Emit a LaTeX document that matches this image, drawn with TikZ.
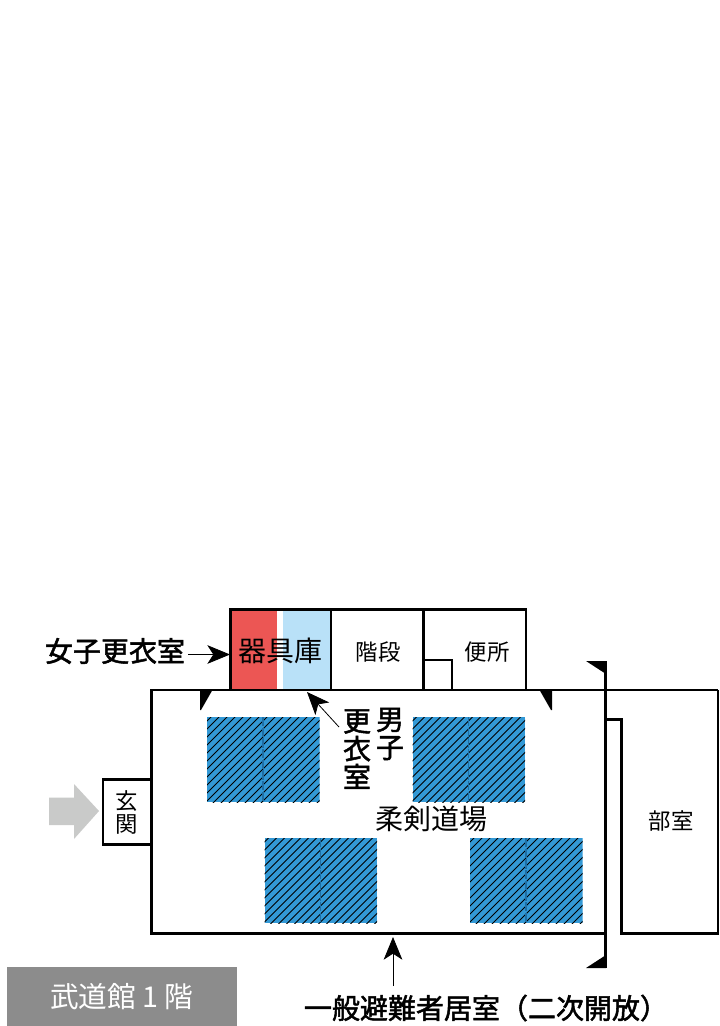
\documentclass[tikz,border=0pt]{standalone}
\usepackage{fontspec}
\setmainfont{Noto Sans CJK JP}
\newfontfamily\calloutfont[FakeBold=1.8]{Noto Sans CJK JP}
\usetikzlibrary{arrows.meta,calc}
\newcommand{\fsz}[1]{\fontsize{#1}{#1}\selectfont}
\definecolor{matblue}{HTML}{3399D6}
\definecolor{matline}{HTML}{1F6FA5}
\definecolor{roomred}{HTML}{EC5654}
\definecolor{roomblue}{HTML}{B9E1F8}
\definecolor{arrowgray}{HTML}{C9CAC9}
\definecolor{labelgray}{HTML}{8C8C8C}
\tikzset{
  x=0.75pt,y=-0.75pt,
  wall/.style={draw=black,line width=1.6pt,line join=miter},
  small/.style={font=\fsz{16.8},inner sep=0pt,align=center},
  big/.style={font=\fsz{21},inner sep=0pt,align=center},
  callout/.style={font=\calloutfont\fsz{21},inner sep=0pt,align=center},
  pointer/.style={draw=black,line width=0.6pt,-{Stealth[length=17pt,width=14pt,inset=4.5pt]}},
  flag/.style={fill=black,draw=none},
}
\newcommand{\mat}[3]{% left, top, divider
  \begin{scope}
    \clip (#1,#2) rectangle ++(112.5,85);
    \fill[matblue] (#1,#2) rectangle ++(112.5,85);
    \foreach \k in {0,8,...,208}{
      \draw[black,line width=0.7pt] ($(#1,#2)+(\k,-4)$) -- ++(-100,100);
    }
    \draw[matline,line width=1.1pt,dash pattern=on 7pt off 1pt] (#3,#2) -- ++(0,85);
  \end{scope}}
\begin{document}
\begin{tikzpicture}
\useasboundingbox (0,0) rectangle (719,1026);
\fill[white] (0,0) rectangle (719,1026);

% room fills
\fill[roomred] (231,610) rectangle (277,690);
\fill[roomblue] (283,610) rectangle (331,690);

% mats
\mat{207}{717}{263}
\mat{412.5}{717}{468.5}
\mat{264.5}{838}{320.5}
\mat{470}{838}{526}

% annex rooms
\draw[wall] (230.5,690) -- (230.5,609.5) -- (526,609.5) -- (526,690);
\draw[wall] (331,609.5) -- (331,690);
\draw[wall] (423.5,609.5) -- (423.5,690);
\draw[wall] (423.5,660) -- (452,660) -- (452,690);

% main hall and club room
\draw[wall] (718,690) -- (151.5,690) -- (151.5,933.5) -- (605,933.5);
\draw[wall] (718,690) -- (718,933.5) -- (621.5,933.5) -- (621.5,719.5) -- (605,719.5);
\draw[draw=black,line width=2pt] (605.5,661) -- (605.5,968);

% entrance
\draw[wall] (151.5,779.5) -- (103,779.5) -- (103,844.5) -- (151.5,844.5);
\fill[arrowgray] (49,797.5) -- (74,797.5) -- (74,784) -- (99,811) -- (74,839) -- (74,825) -- (49,825) -- cycle;

% door flags
\fill[flag] (200,689) -- (213,689) -- (201,710) -- (200,710) -- cycle;
\fill[flag] (539,689) -- (552,689) -- (552,710) -- (551,710) -- cycle;
\fill[flag] (586,661) -- (606,661) -- (606,674) -- cycle;
\fill[flag] (586,968) -- (606,968) -- (606,955) -- cycle;

% room labels
\node[big] (equip) at (280,651) {器具庫};
\node[small] (stairs) at (378,652) {階段};
\node[small] (wc) at (487,652) {便所};
\node[small] (club) at (671,821) {部室};
\node[big] (dojo) at (431,819) {柔剣道場};
\node[small] (hall) at (127,812.5) {玄\\[0.5pt]関};

% callouts
\node[callout] (women) at (115,651) {女子更衣室};
\node[callout] (men1) at (357,749) {更\\衣\\室};
\node[callout,anchor=north] (men2) at (390,707.5) {男\\子};
\node[callout] (evac) at (486,1008) {一般避難者居室（二次開放）};

\coordinate (womenFrom) at (188,654.5);
\coordinate (womenTo) at (230,654.5);
\coordinate (menFrom) at (339,727);
\coordinate (menTo) at (307,692);
\coordinate (evacFrom) at (393,986);
\coordinate (evacTo) at (393,937);
\draw[pointer] (womenFrom) -- (womenTo);
\draw[pointer] (menFrom) -- (menTo);
\draw[pointer] (evacFrom) -- (evacTo);

% floor label
\node[fill=labelgray,minimum width=172pt,minimum height=44.5pt,inner sep=0pt,anchor=north west,text=white,font=\fsz{21.5}] (floor) at (7,967) {武道館 1 階};
\end{tikzpicture}
\end{document}
